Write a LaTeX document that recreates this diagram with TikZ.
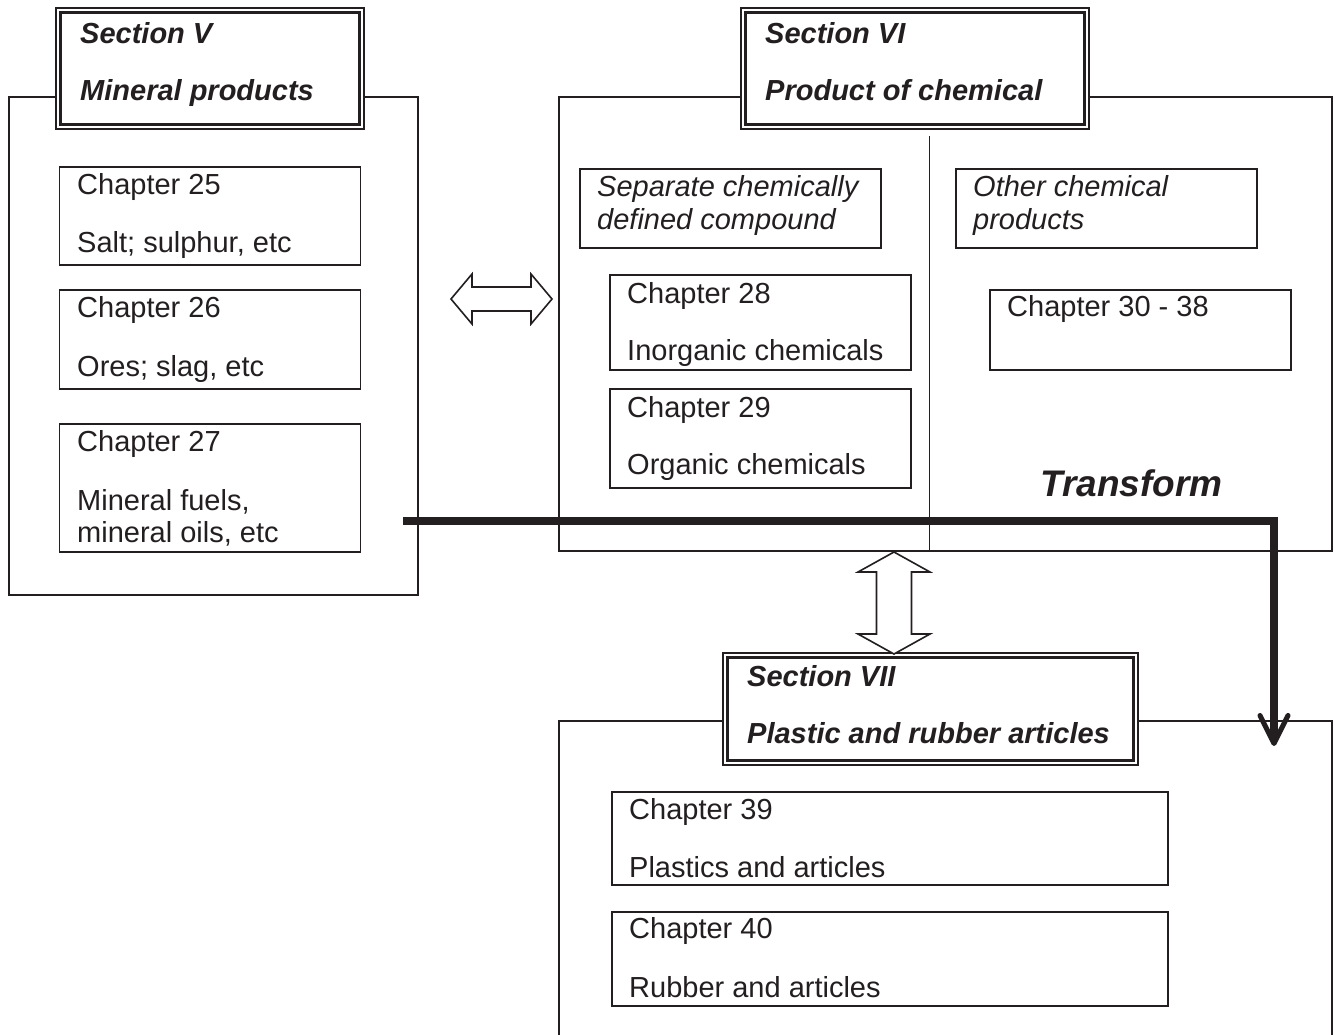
\documentclass[tikz,border=0pt]{standalone}
\usepackage{fontspec}
\setmainfont{Liberation Sans}
\usetikzlibrary{arrows.meta}
\definecolor{ink}{RGB}{35,31,32}
\begin{document}
\begin{tikzpicture}[x=1pt,y=-1pt,
  frame/.style={draw=ink, line width=1.6pt},
  chbox/.style={draw=ink, line width=1.6pt, rectangle, inner sep=0pt, anchor=north west},
  ttlbox/.style={draw=ink, line width=1.8pt, rectangle, inner sep=0pt, anchor=north west},
  txt/.style={anchor=base west, inner sep=0pt, text=ink, font=\fontsize{29}{32}\selectfont},
  itx/.style={txt, font=\fontsize{29}{32}\selectfont\itshape},
  ttl/.style={txt, font=\fontsize{29}{32}\selectfont\bfseries\itshape},
  hollow/.style={draw=ink, fill=white, line width=1.6pt, line join=miter},
  inner rule/.style={draw=ink, line width=2.8pt}
]
\clip (0,0) rectangle (1335,1034);
\fill[white] (0,0) rectangle (1335,1034);

% ---------- Section V ----------
\draw[frame] (55,97) -- (9,97) -- (9,595) -- (418,595) -- (418,97) -- (363,97);
\node[ttlbox, minimum width=308pt, minimum height=121pt] (t5) at (55,7) {};
\draw[inner rule] ([shift={(5.5,5.5)}]t5.north west) rectangle ([shift={(-5.5,-5.5)}]t5.south east);
\node[ttl] (t5a) at (80,43) {Section V};
\node[ttl] (t5b) at (80,100) {Mineral products};

\node[chbox, minimum width=301pt, minimum height=98pt] (b25) at (58.5,166) {};
\node[txt] (b25a) at (77,194) {Chapter 25};
\node[txt] (b25b) at (77,252) {Salt; sulphur, etc};

\node[chbox, minimum width=301pt, minimum height=99pt] (b26) at (58.5,289) {};
\node[txt] (b26a) at (77,317) {Chapter 26};
\node[txt] (b26b) at (77,376) {Ores; slag, etc};

\node[chbox, minimum width=301pt, minimum height=128pt] (b27) at (58.5,423) {};
\node[txt] (b27a) at (77,451) {Chapter 27};
\node[txt] (b27b) at (77,510) {Mineral fuels,};
\node[txt] (b27c) at (77,542) {mineral oils, etc};

% ---------- Section VI ----------
\draw[frame] (740,97) -- (559,97) -- (559,551) -- (1332,551) -- (1332,97) -- (1088,97);
\draw[frame] (929.5,136) -- (929.5,551);
\node[ttlbox, minimum width=348pt, minimum height=121pt] (t6) at (740,7) {};
\draw[inner rule] ([shift={(5.5,5.5)}]t6.north west) rectangle ([shift={(-5.5,-5.5)}]t6.south east);
\node[ttl] (t6a) at (765,43) {Section VI};
\node[ttl] (t6b) at (765,100) {Product of chemical};

\node[chbox, minimum width=301pt, minimum height=79pt] (bsep) at (579,168) {};
\node[itx] (bsepa) at (597,196) {Separate chemically};
\node[itx] (bsepb) at (597,229) {defined compound};

\node[chbox, minimum width=301pt, minimum height=79pt] (both) at (955,168) {};
\node[itx] (botha) at (973,196) {Other chemical};
\node[itx] (bothb) at (973,229) {products};

\node[chbox, minimum width=301pt, minimum height=95pt] (b28) at (609,274) {};
\node[txt] (b28a) at (627,303) {Chapter 28};
\node[txt] (b28b) at (627,360) {Inorganic chemicals};

\node[chbox, minimum width=301pt, minimum height=99pt] (b29) at (609,388) {};
\node[txt] (b29a) at (627,417) {Chapter 29};
\node[txt] (b29b) at (627,474) {Organic chemicals};

\node[chbox, minimum width=301pt, minimum height=80pt] (b30) at (989,289) {};
\node[txt] (b30a) at (1007,316) {Chapter 30 - 38};

\node[anchor=base west, inner sep=0pt, text=ink, font=\fontsize{37}{40}\selectfont\bfseries\itshape] (trans) at (1040,496) {Transform};

% ---------- Section VII ----------
\draw[frame] (722,721) -- (559,721) -- (559,1040);
\draw[frame] (1137,721) -- (1332,721) -- (1332,1040);
\node[ttlbox, minimum width=415pt, minimum height=112pt] (t7) at (722,652) {};
\draw[inner rule] ([shift={(5.5,5.5)}]t7.north west) rectangle ([shift={(-5.5,-5.5)}]t7.south east);
\node[ttl] (t7a) at (747,686) {Section VII};
\node[ttl] (t7b) at (747,743) {Plastic and rubber articles};

\node[chbox, minimum width=556pt, minimum height=93pt] (b39) at (611,791) {};
\node[txt] (b39a) at (629,819) {Chapter 39};
\node[txt] (b39b) at (629,877) {Plastics and articles};

\node[chbox, minimum width=556pt, minimum height=94pt] (b40) at (611,911) {};
\node[txt] (b40a) at (629,938) {Chapter 40};
\node[txt] (b40b) at (629,997) {Rubber and articles};

% ---------- hollow two-way arrows ----------
\coordinate (hl) at (451,299);
\coordinate (hr) at (552,299);
\draw[hollow] (hl) -- ++(21,-25) -- ++(0,13) -- ([shift={(-21,-12)}]hr) -- ++(0,-13)
  -- (hr) -- ++(-21,25) -- ++(0,-13) -- ([shift={(21,12)}]hl) -- ++(0,13) -- cycle;

\coordinate (vt) at (894,552);
\coordinate (vb) at (894,654);
\draw[hollow] (vt) -- ++(36,20) -- ++(-18.5,0) -- ([shift={(17.5,-20)}]vb) -- ++(18.5,0)
  -- (vb) -- ++(-36,-20) -- ++(18.5,0) -- ([shift={(-17.5,20)}]vt) -- ++(-18.5,0) -- cycle;

% ---------- thick transform route ----------
\coordinate (rs) at (403,521);
\coordinate (rc) at (1274,521);
\coordinate (re) at (1274,746);
\draw[draw=ink, line width=7.5pt, line join=miter,
  -{Straight Barb[length=28pt,width=28pt,line width=5pt,round]}] (rs) -- (rc) -- (re);
\end{tikzpicture}
\end{document}
